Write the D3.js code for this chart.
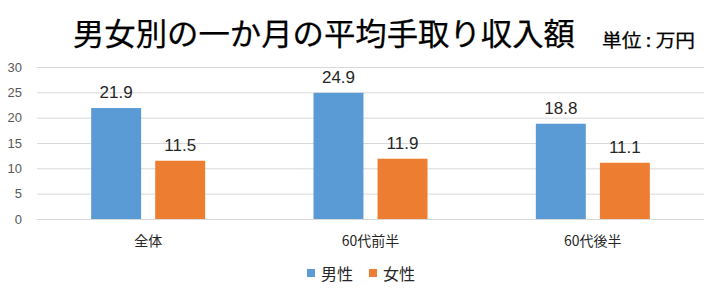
<!DOCTYPE html>
<html><head><meta charset="utf-8">
<script src="https://cdn.jsdelivr.net/npm/d3@7"></script>
<style>
body{margin:0;background:#fff;}
text{font-family:"Noto Sans CJK JP","Noto Sans",sans-serif;}
</style></head>
<body>
<svg id="c" width="716" height="293"></svg>
<script>
const categories = ["全体", "60代前半", "60代後半"];
const seriesNames = ["男性", "女性"];
const maleValues = [21.9, 24.9, 18.8];
const femaleValues = [11.5, 11.9, 11.1];
const yTicks = [0, 5, 10, 15, 20, 25, 30];
const colors = ["#5b9bd5", "#ed7d31"];
const titleText = "男女別の一か月の平均手取り収入額";
const unitText = "単位 : 万円";

const svg = d3.select("#c");
const pLeft = 37, pRight = 704, pTop = 67, pBottom = 219;

const x = d3.scaleBand().domain(categories).range([pLeft, pRight]);
const sub = d3.scaleBand().domain(seriesNames).range([-57, 57]).paddingInner(0.22).paddingOuter(0);
const y = d3.scaleLinear().domain([0, 30]).range([pBottom, pTop]);

// gridlines
svg.append("g").selectAll("line").data(yTicks).join("line")
  .attr("x1", pLeft).attr("x2", pRight)
  .attr("y1", d => y(d) + 0.5).attr("y2", d => y(d) + 0.5)
  .attr("stroke", "#d9d9d9").attr("stroke-width", 1);

// y tick labels
svg.append("g").selectAll("text").data(yTicks).join("text")
  .attr("x", 22).attr("y", d => y(d)).attr("dy", "0.35em")
  .attr("text-anchor", "end").attr("fill", "#595959")
  .attr("font-size", 13).style("font-family", "'Liberation Sans', sans-serif")
  .text(d => d);

const data = categories.map((c, i) => ({cat: c, vals: [maleValues[i], femaleValues[i]]}));

const groups = svg.append("g").selectAll("g").data(data).join("g")
  .attr("transform", d => `translate(${x(d.cat) + x.bandwidth() / 2},0)`);

groups.selectAll("rect").data(d => d.vals.map((v, j) => ({s: seriesNames[j], v, j}))).join("rect")
  .attr("x", d => sub(d.s)).attr("width", sub.bandwidth())
  .attr("y", d => y(d.v)).attr("height", d => y(0) - y(d.v))
  .attr("fill", d => colors[d.j]);

groups.selectAll("text.v").data(d => d.vals.map((v, j) => ({s: seriesNames[j], v, j}))).join("text")
  .attr("class", "v")
  .attr("x", d => sub(d.s) + sub.bandwidth() / 2).attr("y", d => y(d.v) - 10)
  .attr("text-anchor", "middle").attr("fill", "#262626")
  .attr("font-size", 17).style("font-family", "'Liberation Sans', sans-serif")
  .text(d => d.v.toFixed(1));

// category labels
svg.append("g").selectAll("text").data(categories).join("text")
  .attr("x", d => x(d) + x.bandwidth() / 2).attr("y", 246)
  .attr("text-anchor", "middle").attr("fill", "#262626").attr("font-size", 14)
  .text(d => d);

// legend
const legX = [307, 369];
const leg = svg.append("g").selectAll("g").data(seriesNames).join("g")
  .attr("transform", (d, i) => `translate(${legX[i]},269)`);
leg.append("rect").attr("width", 8).attr("height", 8).attr("fill", (d, i) => colors[i]);
leg.append("text").attr("x", 14).attr("y", 11).attr("font-size", 16).attr("fill", "#262626").text(d => d);

// title
svg.append("text").attr("x", 73).attr("y", 45).attr("font-size", 31).attr("font-weight", 400)
  .attr("fill", "#000").attr("stroke", "#000").attr("stroke-width", 0.25)
  .attr("textLength", 502).attr("lengthAdjust", "spacingAndGlyphs").text(titleText);
svg.append("text").attr("x", 602).attr("y", 47).attr("font-size", 18).attr("font-weight", 400)
  .attr("fill", "#000").attr("stroke", "#000").attr("stroke-width", 0.25)
  .attr("textLength", 93).attr("lengthAdjust", "spacingAndGlyphs").text(unitText);
</script>
</body></html>
